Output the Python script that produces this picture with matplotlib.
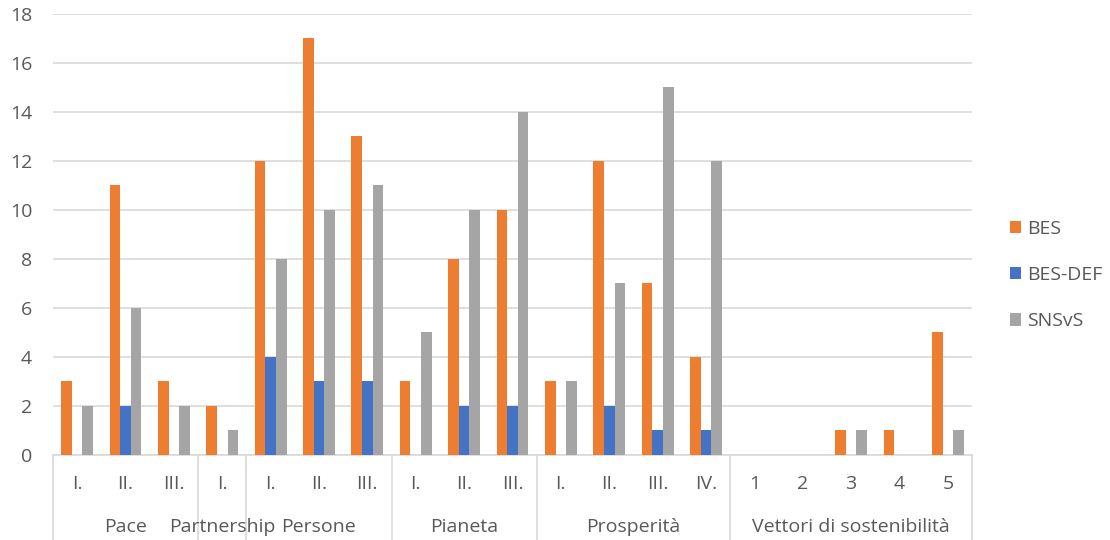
import matplotlib.pyplot as plt
import matplotlib.transforms as mtransforms
import numpy as np

plt.rcParams['font.family'] = ['Open Sans', 'DejaVu Sans']

groups = ["Pace", "Partnership", "Persone", "Pianeta", "Prosperità", "Vettori di sostenibilità"]
group_ticks = [
    ["I.", "II.", "III."],
    ["I."],
    ["I.", "II.", "III."],
    ["I.", "II.", "III."],
    ["I.", "II.", "III.", "IV."],
    ["1", "2", "3", "4", "5"],
]
bes = [3, 11, 3, 2, 12, 17, 13, 3, 8, 10, 3, 12, 7, 4, 0, 0, 1, 1, 5]
bes_def = [0, 2, 0, 0, 4, 3, 3, 0, 2, 2, 0, 2, 1, 1, 0, 0, 0, 0, 0]
snsvs = [2, 6, 2, 1, 8, 10, 11, 5, 10, 14, 3, 7, 15, 12, 0, 0, 1, 0, 1]

series = [("BES", bes, "#ED7D31"), ("BES-DEF", bes_def, "#4472C4"), ("SNSvS", snsvs, "#A5A5A5")]

labels = [t for tl in group_ticks for t in tl]
x = np.arange(len(labels))
w = 0.22
fs = 14

fig = plt.figure(figsize=(11.1, 5.4), dpi=100)
ax = fig.add_axes([0.0477, 0.1574, 0.828, 0.817])

for i, (name, vals, col) in enumerate(series):
    ax.bar(x + (i - 1) * w, vals, width=w, color=col, label=name, zorder=3)

ax.set_xlim(-0.5, len(labels) - 0.5)
ax.set_ylim(0, 18)
ax.set_yticks(range(0, 19, 2))
ax.tick_params(axis='y', length=0, labelsize=fs, labelcolor="#595959", pad=15)
ax.grid(axis='y', color="#D9D9D9", linewidth=1.2, zorder=0)
for s in ["top", "right", "left"]:
    ax.spines[s].set_visible(False)
ax.spines["bottom"].set_color("#D9D9D9")
ax.spines["bottom"].set_linewidth(1.2)
ax.set_xticks([])

# two-level category axis
trans = mtransforms.blended_transform_factory(ax.transData, ax.transAxes)
bottom = -0.1574 / 0.817
for xi, lab in zip(x, labels):
    ax.text(xi, -0.065, lab, transform=trans, ha='center', va='center',
            fontsize=fs, color="#595959")
start = 0
bounds = [-0.5]
for g, tl in zip(groups, group_ticks):
    end = start + len(tl)
    ax.text((start + end - 1) / 2, -0.163, g, transform=trans, ha='center', va='center',
            fontsize=fs, color="#595959")
    bounds.append(end - 0.5)
    start = end
for b in bounds:
    ax.plot([b, b], [0, bottom], transform=trans, color="#D9D9D9", linewidth=1.2, clip_on=False)

leg = ax.legend(loc='center left', bbox_to_anchor=(1.022, 0.408), frameon=False,
                fontsize=fs, handlelength=0.6, handleheight=0.6, handletextpad=0.3,
                labelspacing=1.45)
for t in leg.get_texts():
    t.set_color("#595959")

fig.savefig("out.png", dpi=100)
